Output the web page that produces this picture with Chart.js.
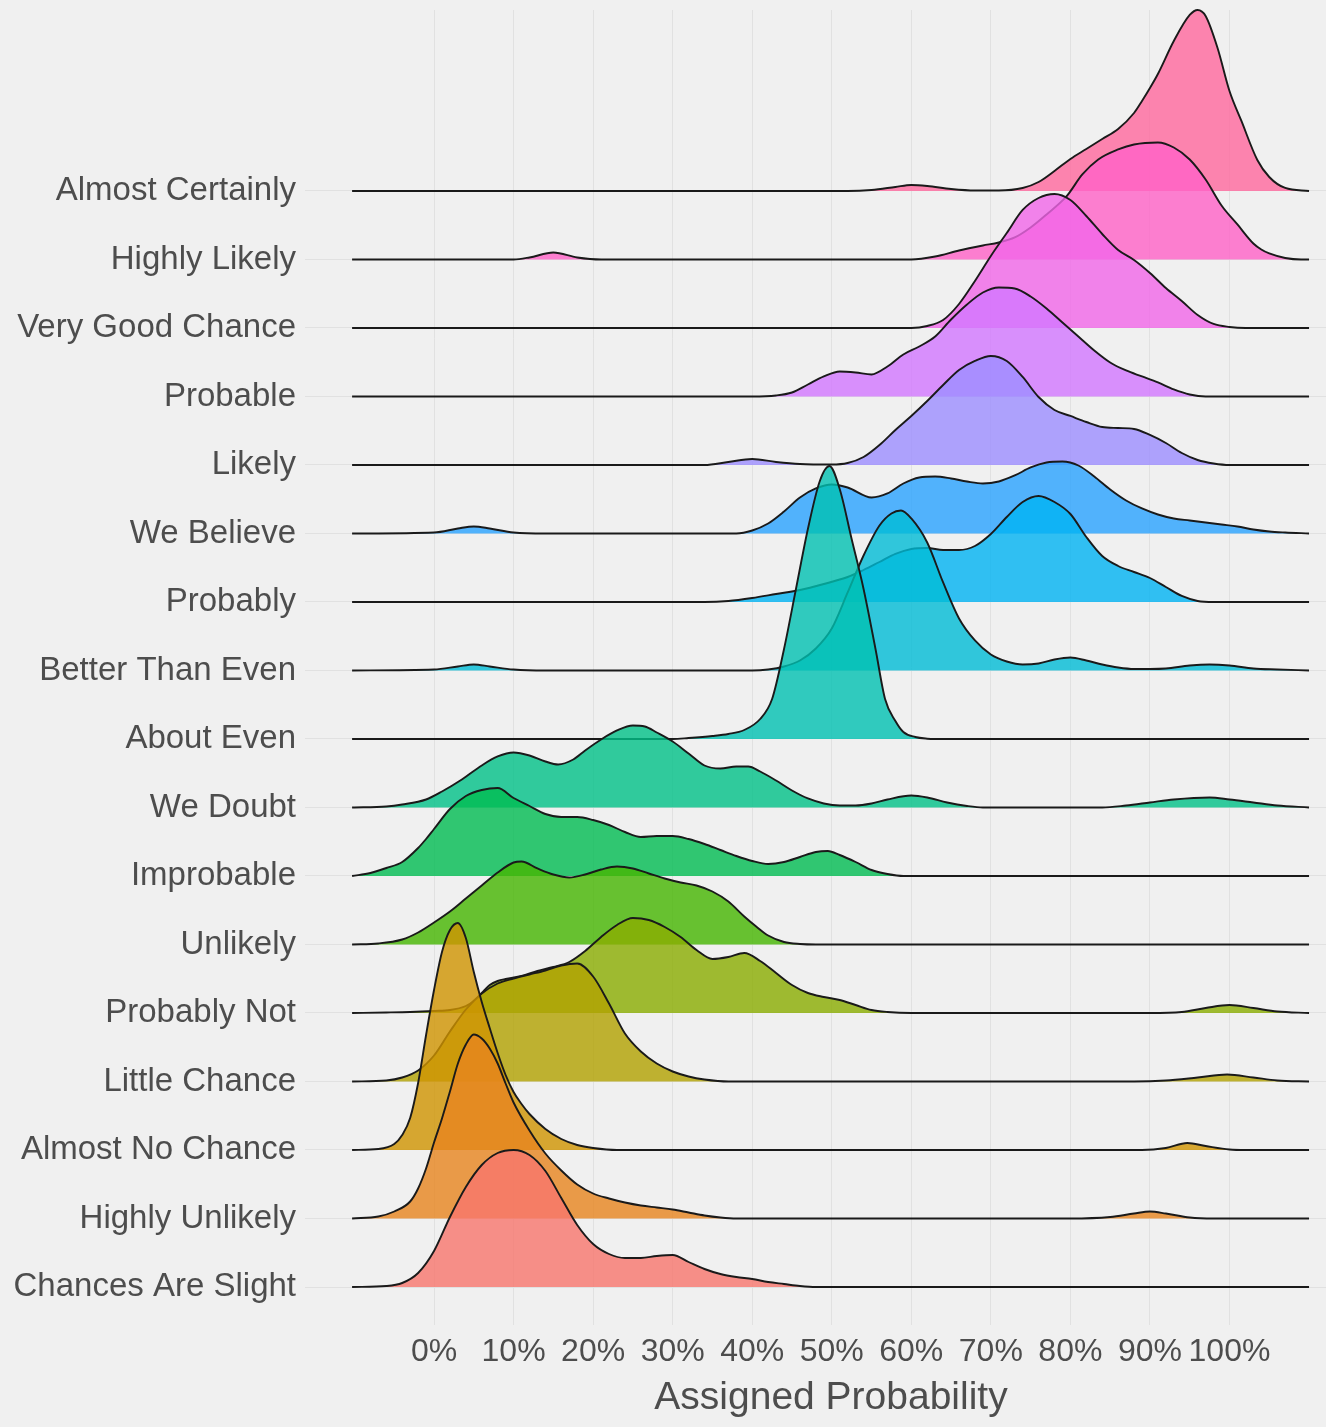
<!DOCTYPE html>
<html lang="en">
<head>
    <meta charset="UTF-8">
    <title>Assigned Probability Ridgeline</title>
    <script src="https://cdn.jsdelivr.net/npm/chart.js"></script>
    <style>
        body { margin: 0; overflow: hidden; background: #f0f0f0; }
        #wrap { width: 1357px; height: 1427px; }
    </style>
</head>
<body>
    <div id="wrap"><canvas id="ridges"></canvas></div>

    <script>
        // bottom row first
        const categories = [
            "Chances Are Slight", "Highly Unlikely", "Almost No Chance", "Little Chance",
            "Probably Not", "Unlikely", "Improbable", "We Doubt", "About Even",
            "Better Than Even", "Probably", "We Believe", "Likely", "Probable",
            "Very Good Chance", "Highly Likely", "Almost Certainly"
        ];
        const xTicks = [0, 10, 20, 30, 40, 50, 60, 70, 80, 90, 100];

        // [assigned %, density height]
        const chancesAreSlight = [[-10.3,0],[-6,1],[-4,4],[-2,14],[0,36],[2,70],[4,100],[6,122],[8,134],[10,137],[12,132],[14,116],[16,89],[18,62],[20,43],[22,33],[24,29],[26,29],[28,31],[30,32],[32,25],[34,18],[36,13],[38,10],[40,8],[42,5],[44,3],[46,1],[48,0],[110,0]];
        const highlyUnlikely = [[-10.3,0],[-7,2],[-5,7],[-3,17],[-2,30],[-1,50],[0,76],[1,100],[2,127],[3,155],[4,174],[5,184],[6,180],[7,170],[8,155],[9,135],[10,116],[12,88],[14,65],[16,48],[18,34],[20,25],[22,20],[24,16],[26,13],[28,11],[30,9],[32,6],[34,3],[36,1],[38,0],[80,0],[85,1.5],[88,5],[90,7],[92,5],[95,1],[98,0],[110,0]];
        const almostNoChance = [[-10.3,0],[-7,1],[-5,6],[-4,15],[-3,32],[-2,67],[-1,115],[0,160],[1,198],[2,220],[3,227],[4,212],[5,178],[6,148],[7,122],[8,97],[9,75],[10,58],[11,46],[12,36],[14,21],[16,11],[18,5],[20,2],[23,0],[89,0],[92,2],[94.7,7],[97,4],[100,0.5],[102,0],[110,0]];
        const littleChance = [[-10.3,0],[-6,1],[-4,4],[-2,11],[0,26],[2,50],[4,72],[6,88],[8,98],[10,103],[12,107],[14,111],[16,116],[18,118],[20,105],[22,78],[24,48],[26,30],[28,18],[30,10],[32,5],[34,2],[37,0],[88,0],[92,1],[96,4],[99.7,7],[103,4],[106,1],[110,0]];
        const probablyNot = [[-10.3,0],[-6,0.5],[-3,1],[0,2],[2,3],[4,7],[5,12],[6,20],[7,28],[8,32],[9,34],[11,37],[13,42],[15,46],[17,51],[19,62],[21,76],[23,88],[25,95],[27,93],[29,86],[31,76],[33,63],[35,54],[37,56],[39,60],[41,52],[43,40],[45,28],[47,20],[49,16],[51,13],[53,8],[55,3],[57,1],[60,0],[90,0],[94,1],[97,5],[100,8],[103,5],[106,1.5],[110,0]];
        const unlikely = [[-10.3,0],[-7,1],[-4,5],[-2,12],[0,22],[2,33],[4,46],[6,59],[8,72],[10,82],[11,83],[13,76],[15,70],[17,67],[19,70],[21,75],[23,78],[25,76],[27,71],[29,66],[31,62],[33,59],[35,53],[37,43],[39,28],[40.5,18],[42,9],[44,2.5],[46,0.5],[48,0],[110,0]];
        const improbable = [[-10.3,0],[-8,3],[-6,8],[-4,14],[-2,28],[-1,37],[0,47],[2,67],[4,80],[6,86],[8,88],[10,78],[12,70],[14,62],[16,59],[18,59],[20,56],[22,51],[24,44],[26,39],[28,40],[30,40],[32,37],[34,32],[36,26],[38,20],[40,15],[42,12],[44,14],[46,19],[48,24],[49.5,25],[51,21],[53,14],[55,6],[57,2],[59,0],[110,0]];
        const weDoubt = [[-10.3,0],[-6,1],[-4,3],[-1,8],[1,16],[3.5,28],[6,42],[8,51],[10,55],[12,52],[14,46],[15.6,43],[17.5,48],[19,57],[21,68],[23,77],[25,82],[26.5,81],[28,75],[30,66],[32,54],[34,42],[36,39],[38,41],[39.5,41],[41,36],[43,27],[45,17],[47,9],[49,4],[51,2],[53,2],[55,4],[57,8],[60,12],[62,10],[64.5,5],[67,1.5],[69,0],[84,0],[87,2],[90,5],[93,8],[97.5,10],[100,8],[103,5],[106,2],[110,0]];
        const aboutEven = [[-10.3,0],[30,0],[32,1],[35,3],[37,5],[39,9],[41,20],[42.5,40],[44,90],[45.5,150],[47,210],[48.5,258],[49.7,273],[51,250],[52.5,200],[54,150],[55.5,90],[56.7,40],[58,18],[59,7],[60.5,2],[62,0.3],[63,0],[110,0]];
        const betterThanEven = [[-10.3,0],[0,1],[3,4],[5,6],[7,4],[10,1],[14,0],[40,0],[42,1],[44,4],[46,10],[48,22],[50,42],[52,78],[54,115],[56,145],[57.5,157],[58.7,160],[60,152],[62,128],[64,88],[66,52],[68,30],[70,16],[72,9],[74,6],[76,7],[78,11],[80,13],[82,10],[84,6],[86,3],[88,1.5],[90,1.5],[92,2],[95,5],[97.5,6],[100,5],[103,2],[106,1],[110,0]];
        const probably = [[-10.3,0],[34,0],[37,1],[40,4],[43,8],[46,12],[49,18],[52,25],[54,32],[56,40],[58,48],[60,53],[62,54],[64,52],[66,52],[68,56],[70,68],[72,85],[74,100],[76,106],[78,100],[80,88],[82,65],[84,46],[86,36],[88,30],[90,24],[92,15],[94,6],[96,1],[98,0],[110,0]];
        const weBelieve = [[-10.3,0],[0,1],[3,5],[5,7],[7,5],[10,1],[14,0],[38,0],[40,3],[42,10],[44,22],[46,36],[48,45],[50,49],[52,46],[55,36],[57,40],[59,50],[61,56],[63,57],[65,55],[67,52],[69,50],[71,52],[73,58],[75,66],[77,71],[79,72],[81,68],[83,57],[85,44],[87,33],[89,25],[91,19],[93,15],[95,13],[97,11],[99,9],[101,7],[103,4],[105,2],[107,1],[110,0]];
        const likely = [[-10.3,0],[34,0],[37,3],[40,6],[43,3],[46,1],[50,0.5],[52,2],[54,8],[56,20],[58,35],[60,49],[62,64],[64,80],[66,95],[68,104],[70,109],[72,104],[74,88],[76,68],[78,55],[80,49],[82,43],[84,38],[86,37],[88,36],[90,30],[92,22],[94,12],[96,5],[98,1.5],[100,0],[110,0]];
        const probable = [[-10.3,0],[40,0],[43,1],[45,4],[47,12],[49,20],[51,25],[53,24],[55,22],[57,30],[59,42],[61,50],[63,60],[65,77],[67,92],[69,104],[71,109],[73,108],[75,100],[77,88],[79,74],[81,60],[83,46],[85,34],[87,26],[89,20],[91,14],[93,7],[95,2],[97,0],[110,0]];
        const veryGoodChance = [[-10.3,0],[60,0],[62,2],[64,8],[66,24],[68,47],[70,72],[72,95],[74,118],[76,130],[78,134],[80,128],[82,112],[84,94],[86,78],[88,68],[90,55],[92,40],[94,27],[96,13],[98,4],[100,1],[102,0],[110,0]];
        const highlyLikely = [[-10.3,0],[10,0],[12,2],[15,7],[18,2],[21,0],[60,0],[63,3],[66,9],[69,14],[71,17],[73,22],[75,32],[77,45],[79.5,63],[81.5,85],[83.5,100],[86,110],[88,115],[91,117],[93,112],[95,100],[97,80],[99,54],[101,35],[103,16],[104,10],[105,6],[107,1.5],[109,0],[110,0]];
        const almostCertainly = [[-10.3,0],[52,0],[55,1],[58,4],[60,6],[62,5],[65,2],[68,0.5],[71,0.5],[74,3],[76,9],[78,20],[80,32],[82,42],[84,52],[86,62],[88,78],[89,90],[90,103],[91,117],[93,150],[95,176],[96,181],[97,175],[98.5,143],[100,100],[101.5,70],[103.5,31],[105,14],[107,3],[110,0]];

        const series = [chancesAreSlight, highlyUnlikely, almostNoChance, littleChance, probablyNot,
            unlikely, improbable, weDoubt, aboutEven, betterThanEven, probably, weBelieve,
            likely, probable, veryGoodChance, highlyLikely, almostCertainly];

        const ridgeScale = 1 / 68.5;   // density units per row
        const textColor = "#4d4d4d";
        const fontFamily = "'Liberation Sans', Arial, sans-serif";

        // ggplot default hue palette (hcl, c = 100, l = 65)
        function hueColor(i, n, alpha) {
            const h = (15 + i * 360 / n) * Math.PI / 180, c = 100, l = 65;
            const Xn = 95.047, Yn = 100, Zn = 108.883;
            const Y = Yn * Math.pow((l + 16) / 116, 3);
            const t = Xn + 15 * Yn + 3 * Zn;
            const u = c * Math.cos(h) / (13 * l) + 4 * Xn / t;
            const v = c * Math.sin(h) / (13 * l) + 9 * Yn / t;
            const X = 9 * Y * u / (4 * v);
            const Z = -X / 3 - 5 * Y + 3 * Y / v;
            const x = X / 100, y = Y / 100, z = Z / 100;
            const lin = [
                3.240479 * x - 1.537150 * y - 0.498535 * z,
                -0.969256 * x + 1.875992 * y + 0.041556 * z,
                0.055648 * x - 0.204043 * y + 1.057311 * z
            ];
            const rgb = lin.map(a => {
                const g = a <= 0.0031308 ? 12.92 * a : 1.055 * Math.pow(a, 1 / 2.4) - 0.055;
                return Math.round(Math.min(1, Math.max(0, g)) * 255);
            });
            return `rgba(${rgb[0]}, ${rgb[1]}, ${rgb[2]}, ${alpha})`;
        }

        const datasets = categories.map((name, i) => ({
            label: name,
            data: series[i].map(([x, d]) => ({ x: x, y: i + 1 + d * ridgeScale })),
            fill: { value: i + 1 },
            backgroundColor: hueColor(i, categories.length, 0.8),
            borderColor: "#1a1a1a",
            borderWidth: 1.9,
            pointRadius: 0,
            cubicInterpolationMode: "monotone",
            clip: false
        }));

        new Chart(document.getElementById("ridges"), {
            type: "line",
            data: { datasets: datasets },
            options: {
                responsive: true,
                maintainAspectRatio: false,
                animation: false,
                layout: { padding: { top: 10 } },
                plugins: { legend: { display: false }, tooltip: { enabled: false } },
                scales: {
                    x: {
                        type: "linear",
                        min: -16.22,
                        max: 116.03,
                        afterBuildTicks: s => { s.ticks = xTicks.map(v => ({ value: v })); },
                        afterFit: s => { s.height = 102; s.paddingLeft = 0; s.paddingRight = 0; },
                        border: { display: false },
                        grid: { color: "#e1e1e1", lineWidth: 1, drawTicks: false },
                        ticks: {
                            autoSkip: false, maxRotation: 0, minRotation: 0, padding: 8,
                            color: textColor,
                            font: { family: fontFamily, size: 32 },
                            callback: v => v + "%"
                        },
                        title: {
                            display: true,
                            text: "Assigned Probability",
                            color: textColor,
                            font: { family: fontFamily, size: 39 },
                            padding: { top: 0, bottom: 5 }
                        }
                    },
                    y: {
                        type: "linear",
                        min: 0.4453,
                        max: 19.642,
                        afterBuildTicks: s => { s.ticks = categories.map((c, i) => ({ value: i + 1 })); },
                        afterFit: s => { s.width = 305; s.paddingTop = 0; s.paddingBottom = 0; },
                        border: { display: false },
                        grid: { color: "#e1e1e1", lineWidth: 1, drawTicks: false },
                        ticks: {
                            autoSkip: false, padding: 9,
                            color: textColor,
                            font: { family: fontFamily, size: 33 },
                            callback: v => categories[Math.round(v) - 1]
                        }
                    }
                }
            }
        });
    </script>
</body>
</html>
